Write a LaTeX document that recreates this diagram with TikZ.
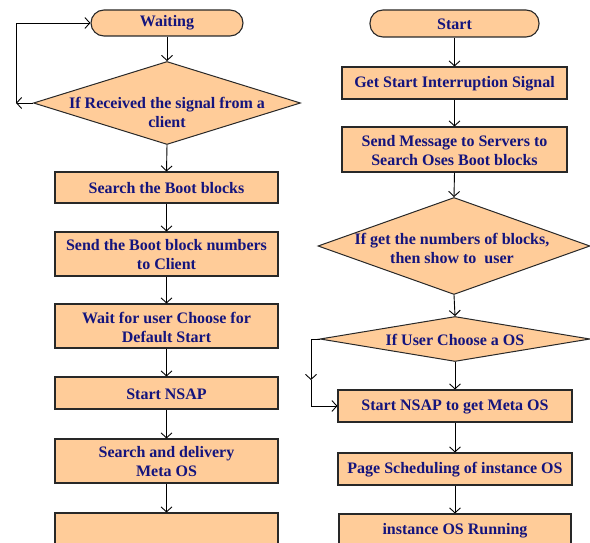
\documentclass[tikz,border=0pt]{standalone}
\usepackage{fontspec}
\setmainfont{Liberation Serif}
\usetikzlibrary{shapes.geometric,arrows.meta}
\definecolor{peach}{HTML}{FFCC99}
\definecolor{navy}{RGB}{20,20,125}
\definecolor{edge}{RGB}{40,40,40}
\begin{document}
\begin{tikzpicture}[x=1pt,y=-1pt,
  every node/.style={font=\fontsize{16}{19}\selectfont\bfseries, text=navy, align=center},
  proc/.style={draw=edge, line width=1.1pt, fill=peach, rectangle, inner sep=0pt},
  term/.style={draw=edge, line width=1.1pt, fill=peach, rectangle, rounded corners=13pt, inner sep=0pt},
  dia/.style={draw=edge, line width=1pt, fill=peach, diamond, inner sep=0pt},
  txt/.style={inner sep=0pt},
  arr/.style={draw=black, line width=0.9pt, -{Straight Barb[length=5pt,width=11pt]}}]
\useasboundingbox (0,0) rectangle (590,543);
\clip (0,0) rectangle (590,543);
% left column
\node[term, minimum width=152pt, minimum height=26pt] (wait) at (167,23) {};
\node[txt] (waitt) at (167,23) {Waiting};
\node[dia, minimum width=267pt, minimum height=83pt] (d1) at (167,103) {};
\node[txt] (d1t) at (167,112) {If Received the signal from a\\client};
\node[proc, minimum width=223pt, minimum height=31pt] (b1) at (166.5,187.5) {};
\node[txt] (b1t) at (166.5,188) {Search the Boot blocks};
\node[proc, minimum width=223pt, minimum height=44pt] (b2) at (166.5,254) {};
\node[txt] (b2t) at (166.5,255) {Send the Boot block numbers\\to Client};
\node[proc, minimum width=223pt, minimum height=44pt] (b3) at (166.5,326) {};
\node[txt] (b3t) at (166.5,327) {Wait for user Choose for\\Default Start};
\node[proc, minimum width=223pt, minimum height=32pt] (b4) at (166.5,393) {};
\node[txt] (b4t) at (166.5,394) {Start NSAP};
\node[proc, minimum width=223pt, minimum height=44pt] (b5) at (166.5,461) {};
\node[txt] (b5t) at (166.5,462) {Search and delivery\\Meta OS};
\node[proc, minimum width=223pt, minimum height=47pt] (b6) at (166.5,536.5) {};
% right column
\node[term, minimum width=169pt, minimum height=27pt] (start) at (454.5,23.5) {};
\node[txt] (startt) at (454.5,24.5) {Start};
\node[proc, minimum width=225pt, minimum height=32pt] (r1) at (454.5,83) {};
\node[txt] (r1t) at (454.5,84) {Get Start Interruption Signal};
\node[proc, minimum width=225pt, minimum height=45pt] (r2) at (454.5,149.5) {};
\node[txt] (r2t) at (454.5,150.5) {Send Message to Servers to\\Search Oses Boot blocks};
\node[dia, minimum width=272pt, minimum height=97pt] (d2) at (454,246) {};
\node[txt] (d2t) at (452,248) {If get the numbers of blocks,\\then show to\ \ user};
\node[dia, minimum width=270pt, minimum height=45pt] (d3) at (455,339) {};
\node[txt] (d3t) at (455,340) {If User Choose a OS};
\node[proc, minimum width=234pt, minimum height=32pt] (r3) at (455,406) {};
\node[txt] (r3t) at (455,407) {Start NSAP to get Meta OS};
\node[proc, minimum width=234pt, minimum height=32pt] (r4) at (455,469) {};
\node[txt] (r4t) at (455,470) {Page Scheduling of instance OS};
\node[proc, minimum width=232pt, minimum height=46pt] (r5) at (455,537) {};
\node[txt] (r5t) at (455,531) {instance OS Running};
% left connectors
\draw[arr] (wait.south) -- (d1.north);
\draw[arr] (d1.south) -- (b1.north);
\draw[arr] (b1.south) -- (b2.north);
\draw[arr] (b2.south) -- (b3.north);
\draw[arr] (b3.south) -- (b4.north);
\draw[arr] (b4.south) -- (b5.north);
\draw[arr] (b5.south) -- (b6.north);
\coordinate (lc) at (16,103);
\draw[arr] (d1.west) -- (lc);
\draw[arr] (lc) |- (wait.west);
% right connectors
\draw[arr] (start.south) -- (r1.north);
\draw[arr] (r1.south) -- (r2.north);
\draw[arr] (r2.south) -- (d2.north);
\draw[arr] (d2.south) -- (d3.north);
\draw[arr] (d3.south) -- (r3.north);
\draw[arr] (r3.south) -- (r4.north);
\draw[arr] (r4.south) -- (r5.north);
\coordinate (rc1) at (311,339);
\coordinate (rc2) at (311,380);
\draw[arr] (d3.west) -- (rc1) -- (rc2);
\draw[arr] (rc2) |- (r3.west);
\end{tikzpicture}
\end{document}
